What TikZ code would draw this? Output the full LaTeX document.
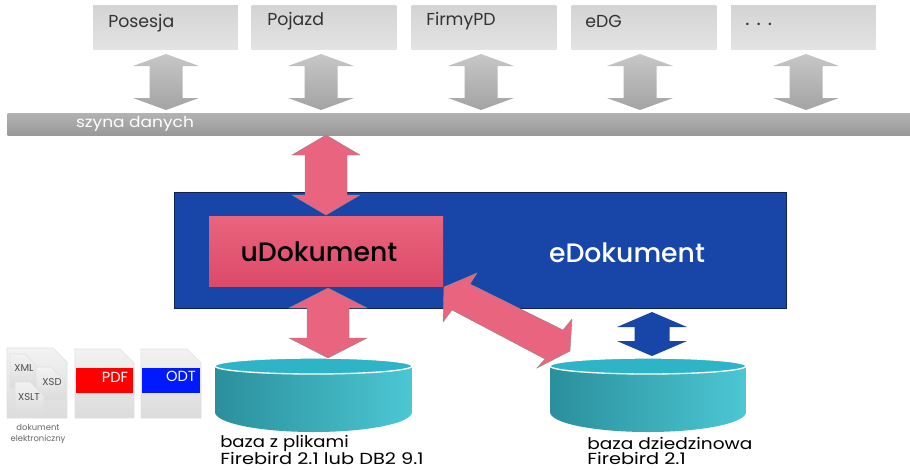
\documentclass[tikz,border=0pt]{standalone}
\usepackage{fontspec}
\setmainfont{Poppins}
\newfontfamily\pmed{Poppins Medium}
\usetikzlibrary{calc,shadows}
\definecolor{bluebox}{HTML}{1746A8}
\definecolor{pinkA}{HTML}{E9647E}
\definecolor{pinkB}{HTML}{DD4A69}
\definecolor{tealA}{HTML}{2B8F9C}
\definecolor{tealB}{HTML}{33BBCE}
\definecolor{tealC}{HTML}{4CC7D4}
\definecolor{tealT}{HTML}{2DB4C6}
\tikzset{
  x=0.75pt,y=-0.75pt,
  module/.style={minimum width=108.5pt,minimum height=33pt,inner sep=0pt,top color=black!17,bottom color=black!11,
    drop shadow={opacity=.12,shadow xshift=0pt,shadow yshift=-.6pt}},
  modlabel/.style={font=\fontsize{13}{15}\selectfont,text=black!80,anchor=west,inner sep=0pt},
  grayarrow/.style={top color=black!22,bottom color=black!36},
  pinkarrow/.style={fill=pinkA,draw=black!45,line width=.3pt},
  bluearrow/.style={fill=bluebox},
  pagesheet/.style={top color=black!5,bottom color=black!14,draw=black!12,line width=.4pt},
  pagelabel/.style={font=\fontsize{11}{13}\selectfont,text=white,anchor=center},
  minilabel/.style={font=\fontsize{7.5}{9}\selectfont,text=black!70},
  caption/.style={font=\fontsize{6.3}{8}\selectfont,text=black!60},
  dblabel/.style={font=\fontsize{12}{13}\selectfont,text=black,anchor=west,inner sep=0pt},
  biglabel/.style={font=\pmed\fontsize{20}{22}\selectfont},
}
\newcommand\wide[2][1.13]{\scalebox{#1}[1]{#2}}
% block double arrow from #2 to #3: half shaft #4, half head #5, head length #6
\newcommand\blockarrow[6][]{%
  \path ($#2!#6*0.75pt!#3$) coordinate (ha) ($#3!#6*0.75pt!#2$) coordinate (hb);
  \path[#1] #2
    -- ($(ha)!#5*0.75pt!90:#3$) -- ($(ha)!#4*0.75pt!90:#3$)
    -- ($(hb)!#4*0.75pt!-90:#2$) -- ($(hb)!#5*0.75pt!-90:#2$)
    -- #3
    -- ($(hb)!#5*0.75pt!90:#2$) -- ($(hb)!#4*0.75pt!90:#2$)
    -- ($(ha)!#4*0.75pt!-90:#3$) -- ($(ha)!#5*0.75pt!-90:#3$) -- cycle;
}
% document sheet with folded corner
\newcommand\sheet[5][pagesheet]{%
  \path[#1] (#2,#3) -- ({#4-14},#3) -- (#4,{#3+14}) -- (#4,#5) -- (#2,#5) -- cycle;
}
% database
\newcommand\database[3]{%
  \path[left color=tealA,middle color=tealB,right color=tealC]
    (#1,{#2+8}) -- (#1,{#2+54}) arc[start angle=180,end angle=0,x radius=#3,y radius=20]
    -- ({#1+2*#3},{#2+8}) -- cycle;
  \path[fill=tealT,draw=white,line width=1pt] ({#1+#3},{#2+8}) ellipse[x radius=#3,y radius=8];
}
\begin{document}
\begin{tikzpicture}
\useasboundingbox (0,0) rectangle (910,469);
\fill[white] (0,0) rectangle (910,469);

% modules
\node[module] (posesja) at (165.5,27) {};
\node[module] (pojazd) at (324,27) {};
\node[module] (firmy) at (484,27) {};
\node[module] (edg) at (644,27) {};
\node[module] (more) at (803.5,27) {};
\node[modlabel] (lposesja) at (108,23) {Posesja};
\node[modlabel] (lpojazd) at (267,21) {Pojazd};
\node[modlabel] (lfirmy) at (426,21) {FirmyPD};
\node[modlabel] (ledg) at (585,21) {eDG};
\node[modlabel,font=\fontsize{15}{15}\selectfont] (lmore) at (745,24) {. . .};

% bus
\node[minimum width=677pt,minimum height=16.5pt,inner sep=0pt,top color=black!30,bottom color=black!40] (bus) at (459,124) {};
\node[font=\fontsize{11.3}{13}\selectfont,text=white,anchor=center,inner sep=0pt] (lbus) at (135,124) {\wide{szyna danych}};

% gray arrows
\coordinate (g1a) at (166,54); \coordinate (g1b) at (166,110);
\coordinate (g2a) at (321,54); \coordinate (g2b) at (321,110);
\coordinate (g3a) at (481,54); \coordinate (g3b) at (481,110);
\coordinate (g4a) at (640,54); \coordinate (g4b) at (640,110);
\coordinate (g5a) at (806,54); \coordinate (g5b) at (806,110);
\blockarrow[grayarrow]{(g1a)}{(g1b)}{16.5}{33}{12}
\blockarrow[grayarrow]{(g2a)}{(g2b)}{16.5}{33}{12}
\blockarrow[grayarrow]{(g3a)}{(g3b)}{16.5}{33}{12}
\blockarrow[grayarrow]{(g4a)}{(g4b)}{16.5}{33}{12}
\blockarrow[grayarrow]{(g5a)}{(g5b)}{16.5}{33}{12}

% main box
\node[fill=bluebox,draw=black!50!bluebox,line width=.4pt,minimum width=459pt,minimum height=87pt,inner sep=0pt] (edok) at (480,250) {};
\node[biglabel,text=white] (ledok) at (627,253) {eDokument};
\node[top color=pinkA,bottom color=pinkB,minimum width=175.5pt,minimum height=52.5pt,inner sep=0pt] (udok) at (326,251) {};
\node[biglabel,text=black] (ludok) at (319,252) {uDokument};

% databases
\database{215}{358}{98.5}
\database{550}{358}{98}
\node[dblabel] (ldb1a) at (220,443) {\wide{baza z plikami}};
\node[dblabel] (ldb1b) at (220,458.5) {\wide[1.21]{Firebird 2.1 lub DB2 9.1}};
\node[dblabel] (ldb2a) at (587,443) {\wide[1.16]{baza dziedzinowa}};
\node[dblabel] (ldb2b) at (587,458.5) {\wide[1.21]{Firebird 2.1}};

% pink arrows
\coordinate (p1a) at (326,135); \coordinate (p1b) at (326,215);
\coordinate (p2a) at (328,288); \coordinate (p2b) at (328,358);
\blockarrow[pinkarrow]{(p1a)}{(p1b)}{21}{34}{20}
\blockarrow[pinkarrow]{(p2a)}{(p2b)}{21}{39}{20}
\path[pinkarrow] (444,287) -- (477,273) -- (470,284) -- (563,330) -- (572,319) -- (570,351)
  -- (537,368) -- (545,359) -- (452,310) -- (443,322) -- cycle;

% blue arrow
\coordinate (b1a) at (652,312); \coordinate (b1b) at (652,356);
\blockarrow[bluearrow]{(b1a)}{(b1b)}{17.5}{35}{15}

% electronic document icons
\sheet{7}{348}{67}{418}
\sheet{10}{354}{39}{388}
\sheet{36}{367}{65}{400}
\sheet{15}{382}{44}{416}
\node[minilabel] (lxml) at (24,368) {XML};
\node[minilabel] (lxsd) at (52,382) {XSD};
\node[minilabel] (lxslt) at (29,397) {XSLT};
\node[caption] (lcapa) at (38,427) {dokument};
\node[caption] (lcapb) at (38,439) {elektroniczny};

\sheet{75}{349}{134}{418}
\fill[red] (76,368) rectangle (133,393);
\node[pagelabel] (lpdf) at (115,377) {PDF};
\sheet{141}{349}{201}{418}
\fill[blue!90!cyan] (142,368) rectangle (200,393);
\node[pagelabel] (lodt) at (181,376) {ODT};
\end{tikzpicture}
\end{document}
